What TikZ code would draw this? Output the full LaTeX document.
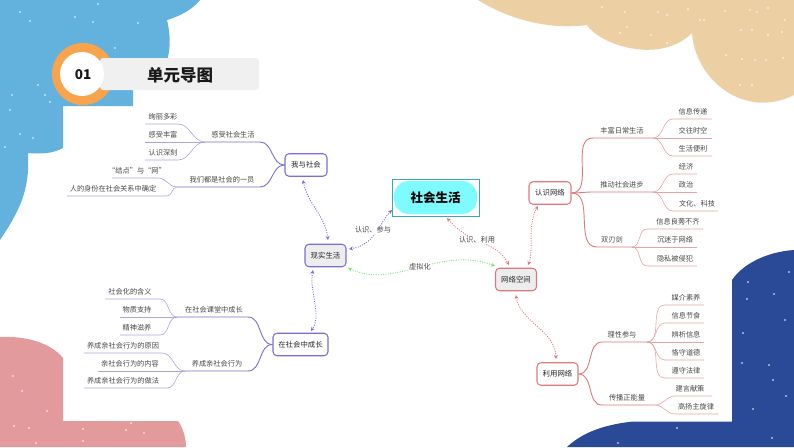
\documentclass[tikz,border=0pt]{standalone}
\usepackage{fontspec}
\setmainfont{Noto Sans CJK SC}
\usetikzlibrary{arrows.meta}
\definecolor{pu}{HTML}{7A6FD2}
\definecolor{pul}{HTML}{ABA6DC}
\definecolor{rd}{HTML}{DB7B7E}
\definecolor{rdl}{HTML}{E3A6A6}
\definecolor{gr}{HTML}{7FE27F}
\definecolor{bluebg}{HTML}{62B2DD}
\definecolor{cream}{HTML}{EDCFA4}
\definecolor{navy}{HTML}{2A4A97}
\definecolor{pink}{HTML}{E29A9C}
\definecolor{orng}{HTML}{F9A34D}
\definecolor{aqua}{HTML}{7DFBFF}
\definecolor{tealb}{HTML}{3AA6B9}
\tikzset{
 lbl/.style={font=\fontsize{7.2}{8}\selectfont,text=black!72,inner sep=0pt},
 topic/.style={draw,rounded corners=4pt,line width=1.05pt,minimum height=22.5pt,font=\fontsize{7.4}{8}\selectfont,text=black!85,inner sep=0pt,anchor=center},
 pubox/.style={topic,draw=pu},
 rdbox/.style={topic,draw=rd},
 graybox/.style={fill=black!7},
 linkbase/.style={dash pattern=on 1pt off 1.4pt,line width=0.9pt,{Stealth[length=4pt,width=4pt]}-{Stealth[length=4pt,width=4pt]}},
 linkp/.style={linkbase,draw=pu},
 linkr/.style={linkbase,draw=rd},
 linkg/.style={linkbase,draw=gr},
 pmain/.style={draw=pu,line width=0.9pt},
 pleaf/.style={draw=pul,line width=0.6pt},
 rmain/.style={draw=rd,line width=0.9pt},
 rleaf/.style={draw=rdl,line width=0.6pt},
 star/.style={fill=white,opacity=.65},
}
\newcommand{\branchL}[8]{%
 \coordinate (#1a) at (#3,#5);\coordinate (#1b) at (#4,#5);
 \node[lbl] (#1) at (#6,#5-6.8) {#7};
 \draw[#2] (#1a) -- (#1b) to[out=0,in=180] (#8);}
\newcommand{\branchR}[8]{%
 \coordinate (#1a) at (#3,#5);\coordinate (#1b) at (#4,#5);
 \node[lbl] (#1) at (#6,#5-6.8) {#7};
 \draw[#2] (#8) to[out=0,in=180] (#1a) -- (#1b);}
\begin{document}
\begin{tikzpicture}[x=1pt,y=-1pt]
\useasboundingbox (0,0) rectangle (794,447);
% background shapes
\fill[bluebg] (0,0) -- (200,0) .. controls (192,10) and (180,16) .. (167,20) .. controls (172,40) and (172,70) .. (150,80) -- (133,88) -- (133,106) -- (63,106) -- (63,148) .. controls (52,154) and (40,154) .. (28,153) .. controls (30,190) and (20,210) .. (0,240) -- cycle;
\fill[cream] (478,0) .. controls (510,20) and (550,30) .. (587,25) .. controls (600,45) and (660,65) .. (692,33) .. controls (695,80) and (745,120) .. (794,95) -- (794,0) -- cycle;
\fill[navy] (732,280) .. controls (742,265) and (765,252) .. (794,250) -- (794,447) -- (567,447) .. controls (585,430) and (610,424) .. (633,421.5) -- (732,421.5) -- cycle;
\fill[pink] (0,337) .. controls (25,336) and (50,342) .. (63,358) -- (63,421) -- (178,421) .. controls (183,428) and (186,438) .. (186,447) -- (0,447) -- cycle;
% stars
\foreach \p in {(20,12),(30,21),(75,17),(93,22),(98,4),(138,23),(115,48),(38,85),(50,102),(12,95),(10,110),(45,95),(20,134),(33,138),(5,147)}{\fill[star] \p circle (1.2);}
\foreach \p in {(602,7),(625,12),(658,12),(667,15),(688,9),(725,11),(750,10),(757,12),(768,8),(785,20),(752,30),(741,30),(627,27),(620,33),(704,20),(667,43),(726,55),(742,59),(755,60),(766,60),(783,58),(740,85),(752,85),(768,35),(782,32),(700,20),(651,35)}{\fill[star] \p circle (1.1);}
\foreach \p in {(789,272),(748,282),(747,299),(774,294),(785,320),(743,333),(742,363),(769,365),(773,380),(786,396),(753,409),(772,438),(677,428),(618,443)}{\fill[star] \p circle (1.2);}
\foreach \p in {(13,376),(22,391),(47,411),(14,426),(29,428),(83,429),(126,430),(131,423),(144,433),(36,443),(83,441)}{\fill[star] \p circle (1.2);}
% header
\fill[orng] (83,74) circle (31);
\fill[black!6] (100,58) [rounded corners=3pt] rectangle (259,90);
\fill[white] (82,74) circle (22);
\node[font=\fontsize{13.5}{14}\bfseries\selectfont,text=black!90,inner sep=0pt] (num) at (83,75) {01};
\node[font=\fontsize{16.5}{17}\bfseries\selectfont,text=black!90,inner sep=0pt] (ttl) at (180,75) {单元导图};
% central topic
\node[draw=tealb,line width=1pt,minimum width=87pt,minimum height=37pt,inner sep=0pt] (root) at (435.5,197.5) {};
\fill[aqua] (394,181) [rounded corners=15pt] rectangle (477,214);
\node[font=\fontsize{12.5}{13}\bfseries\selectfont,text=black,inner sep=0pt] (rootlabel) at (435.5,198) {社会生活};
% main topics
\node[pubox,graybox,minimum width=41pt] (real) at (325.5,255.5) {现实生活};
\node[rdbox,graybox,minimum width=41pt] (net) at (516,279.5) {网络空间};
\node[pubox,fill=white,minimum width=42pt] (me) at (306,165) {我与社会};
\node[pubox,fill=white,minimum width=55pt] (grow) at (300.5,344.5) {在社会中成长};
\node[rdbox,fill=white,minimum width=42pt] (know) at (550,193) {认识网络};
\node[rdbox,fill=white,minimum width=41pt] (use) at (557.5,374) {利用网络};
% link end points, just clear of the boxes
\coordinate (m1) at (303,180);\coordinate (r1) at (328,240);
\coordinate (t1) at (392,210);\coordinate (r2) at (349,249);
\coordinate (t2) at (447,218);\coordinate (n1) at (509,265);
\coordinate (r3) at (348,268);\coordinate (n2) at (495,266);
\coordinate (r4) at (313,270);\coordinate (g1) at (311,331);
\coordinate (n3) at (528,265);\coordinate (k1) at (538,206);
\coordinate (n4) at (516,295);\coordinate (u1) at (556,359);
\draw[linkp] (m1) .. controls (308,205) and (325,215) .. (r1);
\draw[linkp] (t1) .. controls (380,222) and (375,245) .. (r2);
\draw[linkr] (t2) .. controls (470,245) and (495,240) .. (n1);
\draw[linkg] (r3) .. controls (395,290) and (440,245) .. (n2);
\draw[linkp] (r4) .. controls (309,290) and (322,315) .. (g1);
\draw[linkr] (n3) .. controls (534,250) and (527,225) .. (k1);
\draw[linkr] (n4) .. controls (520,322) and (555,330) .. (u1);
\node[lbl,fill=white,inner sep=0.5pt] (lb1) at (373,230) {认识、参与};
\node[lbl,fill=white,inner sep=0.5pt] (lb2) at (477,240) {认识、利用};
\node[lbl,fill=white,inner sep=0.5pt] (lb3) at (420,267) {虚拟化};
% left upper
\branchL{ga}{pmain}{205}{260}{142}{233}{感受社会生活}{me.west}
\branchL{gb}{pmain}{177}{260}{187}{222}{我们都是社会的一员}{me.west}
\coordinate (gaj) at (205,142);\coordinate (gbj) at (177,187);
\branchL{a1}{pleaf}{145}{178}{124}{163}{绚丽多彩}{gaj}
\branchL{a2}{pleaf}{145}{205}{142}{163}{感受丰富}{gaj}
\branchL{a3}{pleaf}{145}{178}{160}{163}{认识深刻}{gaj}
\branchL{b1}{pleaf}{112}{158}{178}{137}{“结点”与“网”}{gbj}
\branchL{b2}{pleaf}{67}{167}{196}{113}{人的身份在社会关系中确定}{gbj}
% left lower
\branchL{gc}{pmain}{177}{248}{317}{214}{在社会课堂中成长}{grow.west}
\branchL{gd}{pmain}{185}{248}{371}{217}{养成亲社会行为}{grow.west}
\coordinate (gcj) at (177,317);\coordinate (gdj) at (185,371);
\branchL{c1}{pleaf}{105}{160}{299}{130}{社会化的含义}{gcj}
\branchL{c2}{pleaf}{120}{177}{317}{137}{物质支持}{gcj}
\branchL{c3}{pleaf}{120}{160}{335}{137}{精神滋养}{gcj}
\branchL{d1}{pleaf}{84}{162}{353}{123}{养成亲社会行为的原因}{gdj}
\branchL{d2}{pleaf}{98}{185}{371}{130}{亲社会行为的内容}{gdj}
\branchL{d3}{pleaf}{84}{167}{388}{123}{养成亲社会行为的做法}{gdj}
% right upper
\branchR{ra}{rmain}{593}{653}{138}{622}{丰富日常生活}{know.east}
\branchR{rb}{rmain}{593}{653}{192}{622}{推动社会进步}{know.east}
\branchR{rc}{rmain}{597}{632}{247}{612}{双刃剑}{know.east}
\coordinate (raj) at (653,138);\coordinate (rbj) at (653,192);\coordinate (rcj) at (632,247);
\branchR{e1}{rleaf}{673}{712}{119}{693}{信息传递}{raj}
\branchR{e2}{rleaf}{653}{712}{138}{693}{交往时空}{raj}
\branchR{e3}{rleaf}{673}{712}{156}{693}{生活便利}{raj}
\branchR{f1}{rleaf}{673}{697}{174}{686}{经济}{rbj}
\branchR{f2}{rleaf}{653}{697}{192}{686}{政治}{rbj}
\branchR{f3}{rleaf}{673}{718}{211}{697}{文化、科技}{rbj}
\branchR{h1}{rleaf}{647}{703}{229}{678}{信息良莠不齐}{rcj}
\branchR{h2}{rleaf}{632}{697}{247}{675}{沉迷于网络}{rcj}
\branchR{h3}{rleaf}{647}{697}{266}{675}{隐私被侵犯}{rcj}
% right lower
\branchR{rd1}{rmain}{602}{647}{342}{622}{理性参与}{use.east}
\branchR{rd2}{rmain}{602}{655}{405}{627}{传播正能量}{use.east}
\coordinate (rdj) at (647,342);\coordinate (rej) at (655,405);
\branchR{i1}{rleaf}{665}{704}{305}{686}{媒介素养}{rdj}
\branchR{i2}{rleaf}{665}{704}{323}{686}{信息节食}{rdj}
\branchR{i3}{rleaf}{647}{704}{342}{686}{辨析信息}{rdj}
\branchR{i4}{rleaf}{665}{704}{360}{686}{恪守道德}{rdj}
\branchR{i5}{rleaf}{665}{704}{378}{686}{遵守法律}{rdj}
\branchR{j1}{rleaf}{675}{712}{396}{690}{建言献策}{rej}
\branchR{j2}{rleaf}{675}{718}{414}{696}{高扬主旋律}{rej}
\end{tikzpicture}
\end{document}
